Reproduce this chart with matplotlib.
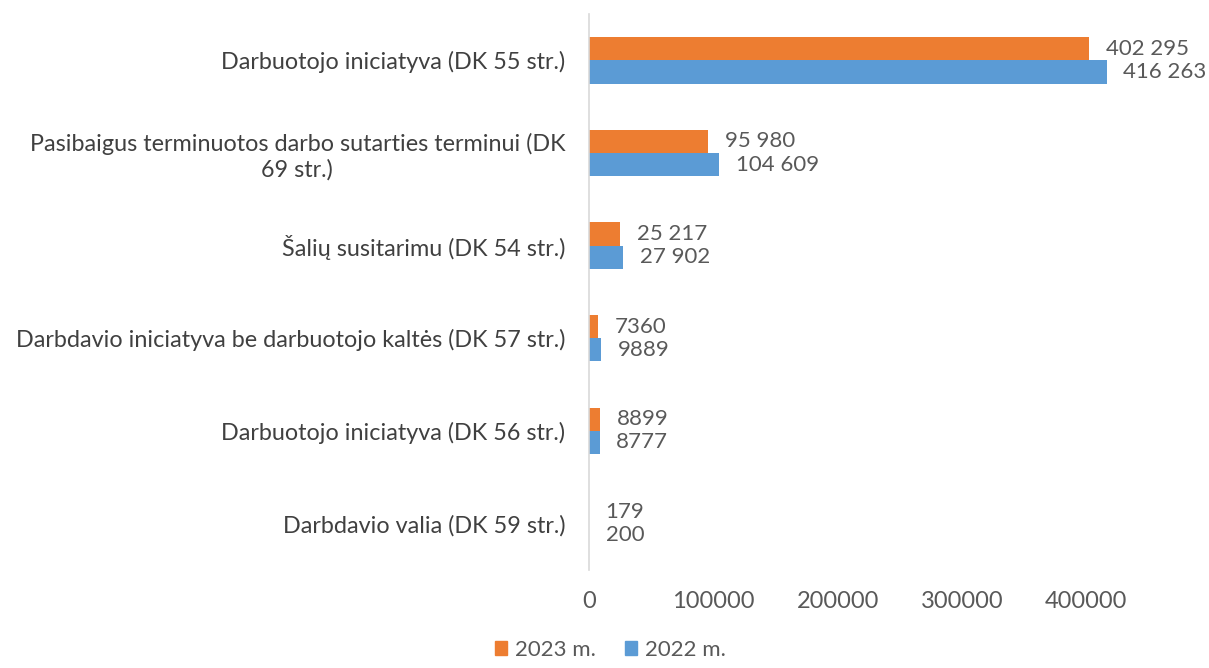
import matplotlib
matplotlib.use("Agg")
import matplotlib.pyplot as plt
from matplotlib.patches import Patch

categories = [
    "Darbuotojo iniciatyva (DK 55 str.)",
    "Pasibaigus terminuotos darbo sutarties terminui (DK\n69 str.)",
    "Šalių susitarimu (DK 54 str.)",
    "Darbdavio iniciatyva be darbuotojo kaltės (DK 57 str.)",
    "Darbuotojo iniciatyva (DK 56 str.)",
    "Darbdavio valia (DK 59 str.)",
]
values_2023 = [402295, 95980, 25217, 7360, 8899, 179]
values_2022 = [416263, 104609, 27902, 9889, 8777, 200]
series_names = ["2023 m.", "2022 m."]
xticks = [0, 100000, 200000, 300000, 400000]

ORANGE = "#ED7D31"
BLUE = "#5B9BD5"
TEXT = "#404040"
TICK = "#595959"

plt.rcParams["font.family"] = ["Lato", "DejaVu Sans"]

fig = plt.figure(figsize=(12.09, 6.68), dpi=100)
ax = fig.add_axes([0.487, 0.147, 0.463, 0.832])

def fmt(v):
    return f"{v:,}".replace(",", " ") if v >= 10000 else str(v)

h = 0.25
pos = list(range(len(categories)))
b1 = ax.barh([p - h / 2 for p in pos], values_2023, height=h, color=ORANGE)
b2 = ax.barh([p + h / 2 for p in pos], values_2022, height=h, color=BLUE)

for bars, vals in ((b1, values_2023), (b2, values_2022)):
    for bar, v in zip(bars, vals):
        ax.annotate(fmt(v), (bar.get_width(), bar.get_y() + bar.get_height() / 2),
                    xytext=(12, 0), textcoords="offset points",
                    ha="left", va="center", fontsize=16, color=TICK)

ax.set_ylim(len(categories) - 0.5, -0.5)
ax.set_xlim(0, 450000)
ax.set_yticks(pos)
ax.set_yticklabels(categories, fontsize=16.8, color=TEXT, multialignment="center")
ax.set_xticks(xticks)
ax.set_xticklabels([str(t) for t in xticks], fontsize=17, color=TICK)
ax.tick_params(axis="y", length=0, pad=17)
ax.tick_params(axis="x", length=0, pad=15)

for s in ("top", "right", "bottom"):
    ax.spines[s].set_visible(False)
ax.spines["left"].set_color("#d9d9d9")
ax.spines["left"].set_linewidth(1.2)

handles = [Patch(color=ORANGE), Patch(color=BLUE)]
fig.legend(handles, series_names, loc="lower center", bbox_to_anchor=(0.505, -0.018),
           ncol=2, frameon=False, fontsize=16, labelcolor=TICK,
           handlelength=0.55, handleheight=0.55, handletextpad=0.35, columnspacing=1.3)

fig.savefig("out.png", dpi=100)
